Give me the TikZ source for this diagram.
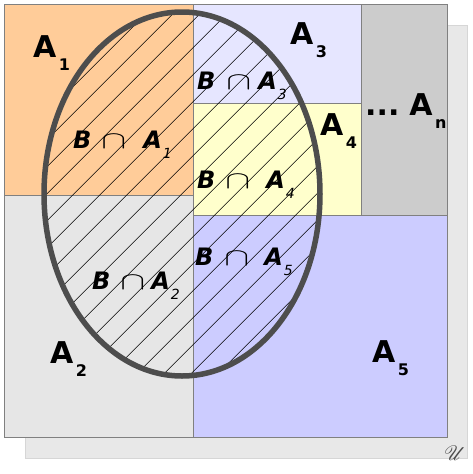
\documentclass[tikz,border=0pt]{standalone}
\usepackage{fontspec}
\setmainfont{DejaVu Sans}
\usepackage{mathrsfs}
\usepackage{graphicx}
\definecolor{cAone}{HTML}{FFCC99}
\definecolor{cAtwo}{HTML}{E6E6E6}
\definecolor{cAthree}{HTML}{E6E6FF}
\definecolor{cAfour}{HTML}{FFFFCC}
\definecolor{cAn}{HTML}{CCCCCC}
\definecolor{cAfive}{HTML}{CCCCFF}
\definecolor{shadowc}{HTML}{E8E8E8}
\definecolor{shadowb}{HTML}{D6D6D6}
\definecolor{edgec}{HTML}{808080}
\definecolor{ellc}{HTML}{4D4D4D}
\newcommand\Asub[1]{\kern2.5pt\raisebox{-13pt}{\fontsize{16}{16}\selectfont\bfseries #1}}
\newcommand\BA[3]{{\bfseries\itshape B}\kern#1pt\scalebox{1.5}[1]{$\cap$}\kern#2pt{\bfseries\itshape A}\kern1pt\raisebox{-10pt}{\fontsize{14}{14}\selectfont\itshape #3}}
\begin{document}
\begin{tikzpicture}[x=1pt,y=-1pt,
  region/.style={draw=edgec,line width=1pt},
  hatch/.style={draw=black,line width=0.6pt},
  setB/.style={draw=ellc,line width=5.5pt},
  biglab/.style={inner sep=0pt,anchor=base west,font=\fontsize{30}{30}\selectfont\bfseries},
  blab/.style={inner sep=0pt,anchor=base west,font=\fontsize{24}{24}\selectfont}]
\useasboundingbox (0,0) rectangle (472,474);
\path[fill=shadowc,draw=shadowb,line width=1pt] (25,25) rectangle (467,458);
\path[region,fill=cAone] (4,4) rectangle (193,195);
\path[region,fill=cAtwo] (4,195) rectangle (193,437);
\path[region,fill=cAthree] (193,4) rectangle (361,103);
\path[region,fill=cAfour] (193,103) rectangle (361,215);
\path[region,fill=cAn] (361,4) rectangle (447,215);
\path[region,fill=cAfive] (193,215) rectangle (447,437);
\begin{scope}
  \clip (182,194) ellipse [x radius=138, y radius=182];
  \foreach \k in {-8,...,22} \draw[hatch] ({186.7+27*\k},0) -- ({186.7+27*\k-600},600);
\end{scope}
\draw[setB] (182,194) ellipse [x radius=138, y radius=182];
\node[biglab] (a1) at (33,57) {A\Asub{1}};
\node[biglab] (a2) at (50,363) {A\Asub{2}};
\node[biglab] (a3) at (290,44) {A\Asub{3}};
\node[biglab] (a4) at (320,135) {A\Asub{4}};
\node[biglab] (an) at (365,115) {...\kern10pt A\Asub{n}};
\node[biglab] (a5) at (372,362) {A\Asub{5}};
\node[blab] (b1) at (73,148) {\BA{10}{17}{1}};
\node[blab] (b2) at (92,289) {\BA{10}{6}{2}};
\node[blab] (b3) at (197,89) {\BA{11}{7}{3}};
\node[blab] (b4) at (197,188) {\BA{10}{16}{4}};
\node[blab] (b5) at (195,265) {\BA{11}{15}{5}};
\node[inner sep=0pt,anchor=base west,text=ellc] (u) at (444,460) {\fontsize{20}{20}\selectfont$\mathscr{U}$};
\end{tikzpicture}
\end{document}
